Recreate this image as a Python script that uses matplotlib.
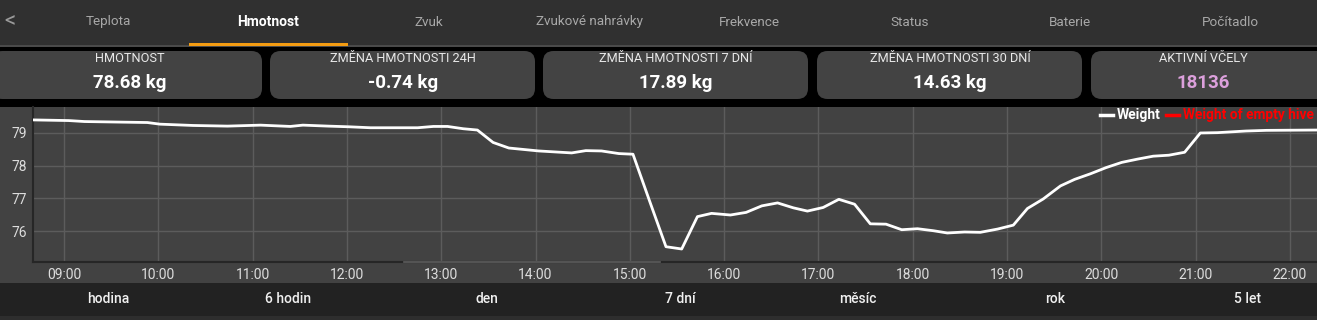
import matplotlib
matplotlib.use("Agg")
import matplotlib.pyplot as plt
from matplotlib.patches import Rectangle, FancyBboxPatch
from matplotlib.lines import Line2D

plt.rcParams['font.family'] = ['Roboto', 'DejaVu Sans']

# ---------------- data ----------------
tabs = ["Teplota", "Hmotnost", "Zvuk", "Zvukové nahrávky", "Frekvence", "Status", "Baterie", "Počítadlo"]
active_tab = "Hmotnost"
card_labels = ["HMOTNOST", "ZMĚNA HMOTNOSTI 24H", "ZMĚNA HMOTNOSTI 7 DNÍ", "ZMĚNA HMOTNOSTI 30 DNÍ", "AKTIVNÍ VČELY"]
card_values = ["78.68 kg", "-0.74 kg", "17.89 kg", "14.63 kg", "18136"]
ranges = ["hodina", "6 hodin", "den", "7 dní", "měsíc", "rok", "5 let"]

times = ["08:40", "09:03", "09:13", "09:53", "10:01", "10:22", "10:44", "11:05", "11:24", "11:32",
         "11:48", "12:01", "12:15", "12:45", "12:55", "13:04", "13:14", "13:23", "13:33", "13:43",
         "14:02", "14:23", "14:32", "14:42", "14:53", "15:02", "15:13", "15:23", "15:33", "15:43",
         "15:52", "16:04", "16:14", "16:24", "16:34", "16:44", "16:53", "17:03", "17:13", "17:23",
         "17:33", "17:43", "17:53", "18:03", "18:13", "18:22", "18:33", "18:43", "18:54", "19:04",
         "19:13", "19:23", "19:34", "19:43", "19:53", "20:03", "20:13", "20:23", "20:33", "20:43",
         "20:53", "21:03", "21:14", "21:32", "21:45", "22:17"]
weight = [79.40, 79.38, 79.35, 79.32, 79.27, 79.23, 79.21, 79.24, 79.20, 79.24,
          79.21, 79.19, 79.16, 79.16, 79.20, 79.20, 79.13, 79.09, 78.71, 78.54,
          78.45, 78.39, 78.46, 78.45, 78.37, 78.35, 76.86, 75.52, 75.45, 76.44,
          76.54, 76.49, 76.57, 76.77, 76.86, 76.71, 76.61, 76.72, 76.97, 76.82,
          76.22, 76.21, 76.04, 76.07, 76.01, 75.94, 75.97, 75.96, 76.06, 76.18,
          76.69, 76.98, 77.38, 77.58, 77.75, 77.94, 78.10, 78.20, 78.29, 78.32,
          78.41, 79.00, 79.01, 79.06, 79.08, 79.09]
hour_ticks = list(range(9, 23))
y_ticks = [76, 77, 78, 79]

# ---------------- layout helpers ----------------
W, H = 1317, 320
fig = plt.figure(figsize=(W / 100, H / 100), dpi=100)
fig.patch.set_facecolor("#000000")

def fx(x):
    return x / W

def fy(y):
    return 1 - y / H

def rect(x0, y0, x1, y1, color, z=0):
    fig.patches.append(Rectangle((fx(x0), fy(y1)), fx(x1) - fx(x0), fy(y0) - fy(y1),
                                 transform=fig.transFigure, facecolor=color, edgecolor="none", zorder=z))

def text(x, y, s, **kw):
    fig.text(fx(x), fy(y), s, transform=fig.transFigure, **kw)

# tab bar
rect(0, 0, W, 45, "#303030")
rect(0, 45, W, 46.5, "#4a4a4a")
text(10, 22, "<", color="#9a9a9a", fontsize=16, ha="center", va="center")
for i, t in enumerate(tabs):
    cx = 108 + i * 160.4
    if t == active_tab:
        text(cx, 22, t, color="#ffffff", fontsize=10, fontweight="bold", ha="center", va="center")
        rect(189, 43, 348, 45.5, "#f39c12", z=2)
    else:
        text(cx, 22, t, color="#a8a8a8", fontsize=9.7, ha="center", va="center")

# cards
card_x = [(-8, 262), (270, 535), (543, 808), (817, 1082), (1091, 1330)]
card_cx = [130, 403, 676, 950, 1203]
for (x0, x1), cx, lab, val in zip(card_x, card_cx, card_labels, card_values):
    fig.patches.append(FancyBboxPatch((fx(x0), fy(99)), fx(x1) - fx(x0), fy(51) - fy(99),
                                      boxstyle="round,pad=0,rounding_size=0.008",
                                      transform=fig.transFigure, facecolor="#434343",
                                      edgecolor="none", mutation_aspect=W / H))
    col = "#dca0dc" if lab == "AKTIVNÍ VČELY" else "#ffffff"
    text(cx, 59, lab, color="#e8e8e8", fontsize=9.2, ha="center", va="center")
    text(cx, 83.5, val, color=col, fontsize=13.5, fontweight="bold", ha="center", va="center")

# chart background
rect(0, 107, W, 283, "#424242")
# range bar
rect(0, 283, W, 316, "#222222")
rect(0, 316, W, H, "#2e2e2e")
range_x = [108, 288, 487, 680, 858, 1055, 1248]
for x, r in zip(range_x, ranges):
    text(x, 299, r, color="#f0f0f0", fontsize=10, fontweight="medium", ha="center", va="center")

# ---------------- main chart ----------------
def to_hours(s):
    h, m = s.split(":")
    return int(h) + int(m) / 60

xs = [to_hours(t) for t in times]

ax = fig.add_axes([fx(33), fy(262), fx(W) - fx(33), fy(107) - fy(262)])
ax.set_zorder(3)
ax.set_facecolor("#424242")
ax.set_xlim(8.671, 22.287)
ax.set_ylim(75.052, 79.795)
ax.plot(xs, weight, color="#ffffff", lw=2, solid_joinstyle="round", zorder=3)

ax.set_xticks(hour_ticks)
ax.set_xticklabels([f"{h:02d}:00" for h in hour_ticks])
ax.set_yticks(y_ticks)
ax.set_yticklabels([str(v) for v in y_ticks])
ax.grid(True, color="#5c5c5c", lw=1)
ax.set_axisbelow(True)
ax.tick_params(axis="both", length=0, colors="#dddddd", labelsize=10)
ax.tick_params(axis="x", pad=4)
ax.tick_params(axis="y", pad=4)
for s in ["top", "right"]:
    ax.spines[s].set_visible(False)
for s in ["left", "bottom"]:
    ax.spines[s].set_color("#262626")
    ax.spines[s].set_linewidth(1.5)
# lighter segment on the x axis line
fig.lines.append(Line2D([fx(404), fx(660)], [fy(261.5), fy(261.5)], transform=fig.transFigure,
                        color="#5e5e5e", lw=1.2, zorder=5))

# legend
fig.lines.append(Line2D([fx(1100), fx(1113)], [fy(115), fy(115)], transform=fig.transFigure,
                        color="#ffffff", lw=2.5, zorder=6))
text(1117, 115.5, "Weight", color="#ffffff", fontsize=10, fontweight="bold", ha="left", va="center", zorder=6)
fig.lines.append(Line2D([fx(1166), fx(1179)], [fy(115), fy(115)], transform=fig.transFigure,
                        color="#ff0000", lw=2.5, zorder=6))
text(1183, 115.5, "Weight of empty hive", color="#ff0000", fontsize=9.9, fontweight="bold", ha="left",
     va="center", zorder=6)

fig.savefig("out.png", dpi=100, facecolor=fig.get_facecolor())
